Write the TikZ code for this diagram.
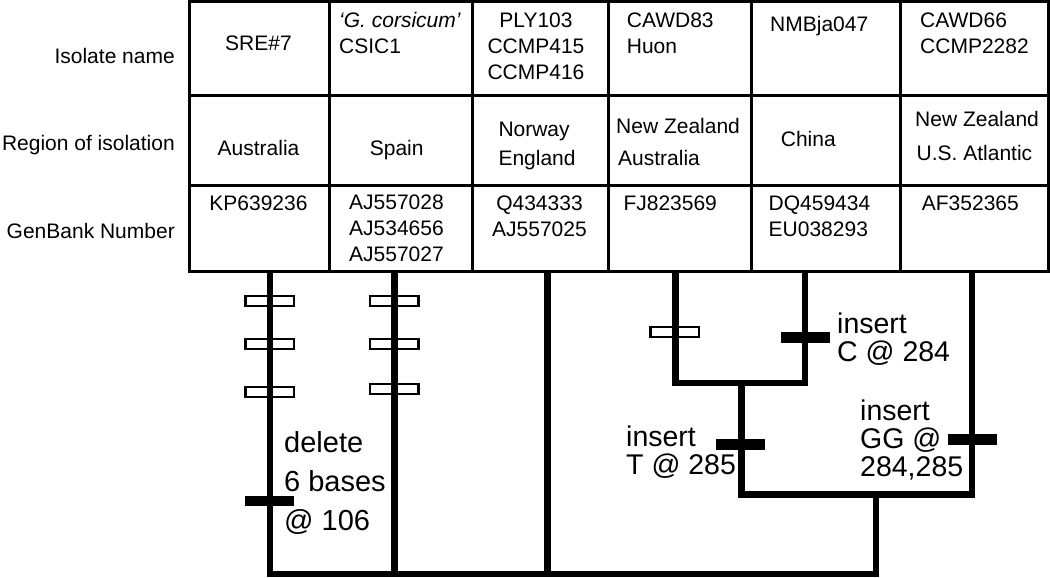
\documentclass[tikz,border=0pt]{standalone}
\usepackage{fontspec}
\setmainfont{Liberation Sans}
\usetikzlibrary{positioning}

\begin{document}
\begin{tikzpicture}[x=1pt, y=-1pt,
    grid/.style={line width=3pt},
    cell/.style={inner sep=0pt, font=\fontsize{21}{26}\selectfont},
    cellc/.style={cell, anchor=base, align=center},
    celll/.style={cell, anchor=base west, align=left},
    rowlabel/.style={cell, anchor=base east},
    branch/.style={line width=6.5pt},
    gapbox/.style={draw, line width=2.5pt, minimum width=48.5pt, minimum height=10pt, inner sep=0pt},
    mutbar/.style={fill=black, minimum width=49pt, minimum height=10.5pt, inner sep=0pt},
    note/.style={inner sep=0pt, anchor=base west, align=left, font=\fontsize{28.5}{28}\selectfont}]

    \useasboundingbox (0,0) rectangle (1050,578);

    % row labels
    \node[rowlabel] (lblIso) at (175,63.3) {Isolate name};
    \node[rowlabel] (lblReg) at (175,150) {Region of isolation};
    \node[rowlabel] (lblGb) at (175,238.3) {GenBank Number};

    % isolate names (multi-line nodes sit on their last baseline)
    \node[cellc] (iso1) at (258.5,50.7) {SRE\#7};
    \node[celll] (iso2) at (339,54) {\textit{`G. corsicum'}\\CSIC1};
    \node[cellc] (iso3) at (536,79.3) {PLY103\\CCMP415\\CCMP416};
    \node[celll] (iso4) at (626.7,54) {CAWD83\\Huon};
    \node[celll] (iso5) at (770,31.7) {NMBja047};
    \node[celll] (iso6) at (920,54) {CAWD66\\CCMP2282};

    % regions
    \node[cellc] (reg1) at (258.5,155) {Australia};
    \node[cellc] (reg2) at (396.7,155) {Spain};
    \node[celll] (reg3) at (498.3,165) {Norway\\[2.5pt]England};
    \node[celll] (reg4) at (616,165) {New Zealand\\[6pt]\hspace{2pt}Australia};
    \node[celll] (reg5) at (780.7,146) {China};
    \node[celll] (reg6) at (915,160) {New Zealand\\[8pt]\hspace{1.5pt}U.S. Atlantic};

    % genbank numbers
    \node[cellc] (gb1) at (258.5,210.7) {KP639236};
    \node[cellc] (gb2) at (396.5,261.7) {AJ557028\\AJ534656\\AJ557027};
    \node[cellc] (gb3) at (539.5,236.5) {Q434333\\AJ557025};
    \node[celll] (gb4) at (623.3,210.7) {FJ823569};
    \node[celll] (gb5) at (768.5,236.5) {DQ459434\\EU038293};
    \node[celll] (gb6) at (921.7,210.7) {AF352365};

    % table grid
    \draw[grid] (189.5,1.5) rectangle (1048,271.5);
    \foreach \y in {96,185.5}
        \draw[grid] (189.5,\y) -- (1048,\y);
    \foreach \x in {329.5,472.7,608.7,751,900.7}
        \draw[grid] (\x,1.5) -- (\x,271.5);

    % tree
    \coordinate (leaf1) at (270,271.5);
    \coordinate (leaf2) at (394.5,271.5);
    \coordinate (leaf3) at (547.5,271.5);
    \coordinate (leaf4) at (675.5,271.5);
    \coordinate (leaf5) at (805,271.5);
    \coordinate (leaf6) at (972,271.5);
    \coordinate (n45) at (741.5,383);
    \coordinate (n456) at (876,494.7);
    \coordinate (root) at (547.5,574);

    \draw[branch] (leaf4) |- (n45) -| (leaf5);
    \draw[branch] (n45) |- (n456) -| (leaf6);
    \draw[branch] (leaf1) |- (root) -| (n456);
    \draw[branch] (leaf2) -- (leaf2 |- root);
    \draw[branch] (leaf3) -- (root);

    % changes on branches
    \node[gapbox] (g1a) at (269.5,301) {};
    \node[gapbox] (g1b) at (269.5,344) {};
    \node[gapbox] (g1c) at (269.5,392) {};
    \node[gapbox] (g2a) at (394,301) {};
    \node[gapbox] (g2b) at (394,344) {};
    \node[gapbox] (g2c) at (394,389) {};
    \node[gapbox] (g4a) at (674.5,332) {};
    \node[mutbar] (m1) at (269,501) {};
    \node[mutbar] (m5) at (805,337.5) {};
    \node[mutbar] (m45) at (740,444.5) {};
    \node[mutbar] (m6) at (972,439.5) {};

    \node[note, font=\fontsize{29}{39}\selectfont] (del) at (284,530.5) {delete\\6 bases\\@ 106};
    \node[note] (insC) at (837,361) {insert\\C @ 284};
    \node[note] (insT) at (626,474.5) {insert\\T @ 285};
    \node[note] (insGG) at (860,476) {insert\\GG @\\284,285};
\end{tikzpicture}
\end{document}
